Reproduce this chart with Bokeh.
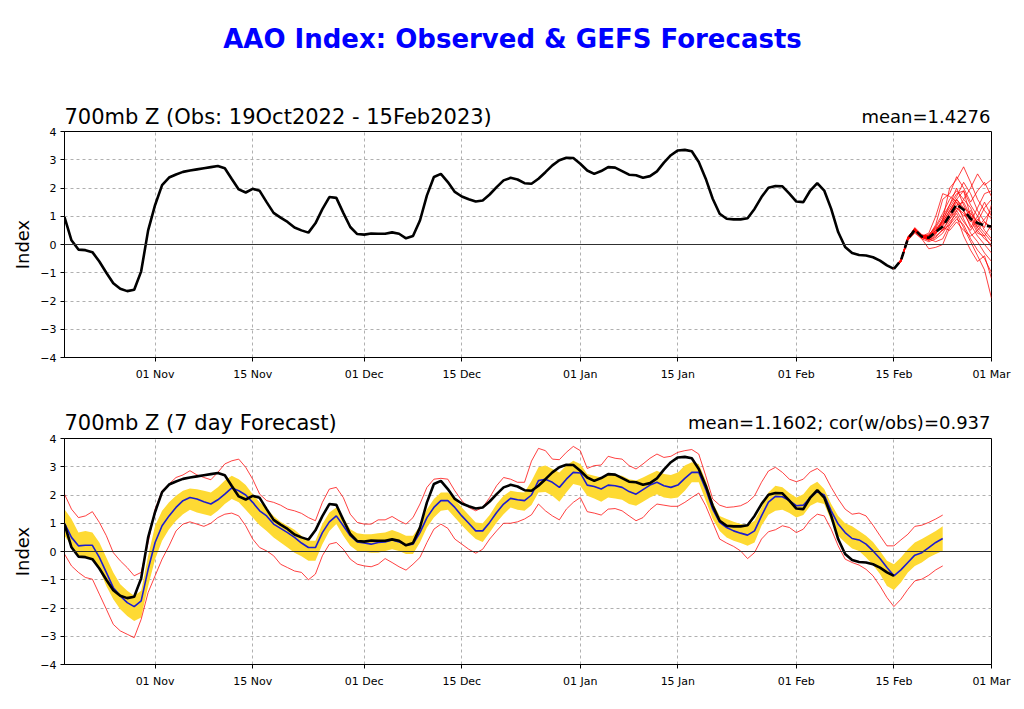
import pandas as pd
from bokeh.plotting import figure
from bokeh.models import Range1d, FixedTicker, DatetimeTickFormatter, Span, Label
from bokeh.layouts import column
from bokeh.embed import file_html
from bokeh.resources import INLINE

# ---------------- data ----------------
obs_start = "2022-10-19"
fcst_start = "2022-10-19"
ens_start = "2023-02-15"
x_start, x_end = "2022-10-19", "2023-03-01"
tick_dates = ["2022-11-01", "2022-11-15", "2022-12-01", "2022-12-15", "2023-01-01",
              "2023-01-15", "2023-02-01", "2023-02-15", "2023-03-01"]
y_ticks = [-4, -3, -2, -1, 0, 1, 2, 3, 4]

main_title = "AAO Index: Observed & GEFS Forecasts"
top_title = "700mb Z (Obs: 19Oct2022 - 15Feb2023)"
top_stat = "mean=1.4276"
bot_title = "700mb Z (7 day Forecast)"
bot_stat = "mean=1.1602; cor(w/obs)=0.937"

# observed AAO index (daily, 19 Oct 2022 - 15 Feb 2023)
obs = [0.97, 0.15, -0.18, -0.20, -0.27, -0.60, -1.00, -1.37, -1.57, -1.65,
       -1.60, -0.95, 0.50, 1.40, 2.10, 2.37, 2.48, 2.57, 2.62, 2.66,
       2.70, 2.74, 2.78, 2.70, 2.32, 1.95, 1.84, 1.97, 1.90, 1.50,
       1.12, 0.95, 0.80, 0.60, 0.50, 0.42, 0.75, 1.25, 1.68, 1.65,
       1.12, 0.62, 0.37, 0.35, 0.39, 0.38, 0.38, 0.43, 0.38, 0.22,
       0.30, 0.85, 1.74, 2.39, 2.50, 2.21, 1.86, 1.70, 1.60, 1.52,
       1.56, 1.77, 2.03, 2.27, 2.36, 2.30, 2.17, 2.15, 2.33, 2.56,
       2.80, 2.98, 3.07, 3.06, 2.86, 2.62, 2.50, 2.60, 2.74, 2.72,
       2.60, 2.47, 2.45, 2.36, 2.42, 2.59, 2.90, 3.16, 3.33, 3.35,
       3.30, 2.92, 2.33, 1.62, 1.09, 0.91, 0.89, 0.89, 0.93, 1.26,
       1.68, 2.01, 2.07, 2.06, 1.80, 1.52, 1.50, 1.91, 2.17, 1.91,
       1.26, 0.44, -0.09, -0.30, -0.37, -0.39, -0.45, -0.57, -0.74, -0.86]

# 7-day forecast ensemble mean (daily, 19 Oct 2022 - 22 Feb 2023)
fc_mean = [1.00, 0.50, 0.20, 0.22, 0.22, -0.21, -0.74, -1.28, -1.57, -1.81,
           -1.95, -1.75, -0.63, 0.32, 0.91, 1.26, 1.56, 1.80, 1.91, 1.86,
           1.76, 1.68, 1.83, 2.03, 2.25, 2.15, 2.00, 1.74, 1.44, 1.26,
           0.97, 0.82, 0.67, 0.50, 0.30, 0.14, 0.14, 0.67, 1.05, 1.26,
           0.91, 0.56, 0.34, 0.30, 0.26, 0.32, 0.34, 0.41, 0.34, 0.22,
           0.26, 0.67, 1.20, 1.56, 1.80, 1.80, 1.56, 1.26, 1.00, 0.73,
           0.73, 1.03, 1.38, 1.68, 1.88, 1.83, 1.80, 2.00, 2.51, 2.56,
           2.45, 2.27, 2.56, 2.80, 2.78, 2.35, 2.30, 2.21, 2.35, 2.33,
           2.27, 2.12, 2.03, 2.19, 2.35, 2.45, 2.33, 2.27, 2.35, 2.59,
           2.80, 2.80, 2.21, 1.50, 1.03, 0.85, 0.73, 0.65, 0.58, 0.73,
           1.26, 1.75, 1.95, 1.94, 1.80, 1.62, 1.64, 1.91, 2.12, 2.00,
           1.44, 0.97, 0.67, 0.46, 0.41, 0.26, 0.02, -0.25, -0.57, -0.86,
           -0.65, -0.39, -0.13, -0.04, 0.14, 0.32, 0.46]

# yellow band: upper / lower
fc_band_hi = [1.50, 1.15, 0.67, 0.73, 0.67, 0.32, -0.21, -0.74, -1.16, -1.39,
              -1.57, -1.39, -0.15, 0.91, 1.44, 1.74, 1.97, 2.15, 2.23, 2.20,
              2.15, 2.09, 2.27, 2.51, 2.68, 2.56, 2.35, 2.03, 1.74, 1.52,
              1.26, 1.05, 0.91, 0.77, 0.56, 0.38, 0.38, 0.97, 1.38, 1.56,
              1.20, 0.79, 0.65, 0.61, 0.61, 0.65, 0.67, 0.76, 0.67, 0.56,
              0.56, 0.91, 1.50, 1.86, 2.09, 2.09, 1.86, 1.56, 1.29, 1.03,
              1.00, 1.29, 1.68, 1.97, 2.15, 2.11, 2.09, 2.50, 2.98, 3.04,
              2.92, 2.80, 3.04, 3.21, 3.10, 2.74, 2.68, 2.62, 2.74, 2.71,
              2.68, 2.56, 2.51, 2.62, 2.74, 2.86, 2.74, 2.71, 2.80, 3.04,
              3.16, 3.10, 2.51, 1.74, 1.26, 1.15, 1.05, 0.97, 0.93, 1.09,
              1.56, 2.09, 2.33, 2.27, 2.07, 1.91, 2.03, 2.33, 2.47, 2.21,
              1.68, 1.26, 1.00, 0.89, 0.73, 0.56, 0.34, 0.02, -0.33, -0.45,
              -0.21, 0.08, 0.32, 0.44, 0.58, 0.73, 0.89]

fc_band_lo = [0.56, 0.20, -0.15, -0.21, -0.27, -0.63, -1.22, -1.69, -2.04, -2.28,
              -2.46, -2.34, -1.22, -0.27, 0.38, 0.79, 1.09, 1.32, 1.48, 1.38,
              1.32, 1.26, 1.44, 1.68, 1.86, 1.74, 1.48, 1.20, 0.93, 0.73,
              0.50, 0.32, 0.14, -0.04, -0.17, -0.33, -0.33, 0.26, 0.73, 0.97,
              0.56, 0.20, 0.02, -0.01, -0.04, -0.04, 0.02, 0.08, 0.02, -0.09,
              -0.09, 0.32, 0.85, 1.20, 1.44, 1.48, 1.20, 0.93, 0.67, 0.44,
              0.34, 0.67, 1.03, 1.32, 1.56, 1.48, 1.44, 1.65, 2.09, 2.11,
              1.97, 1.76, 2.09, 2.39, 2.33, 1.97, 1.88, 1.76, 1.91, 1.88,
              1.83, 1.68, 1.62, 1.76, 1.91, 2.03, 1.91, 1.88, 1.91, 2.15,
              2.45, 2.45, 1.80, 1.15, 0.73, 0.50, 0.38, 0.30, 0.20, 0.32,
              0.91, 1.30, 1.44, 1.48, 1.36, 1.20, 1.29, 1.62, 1.74, 1.68,
              1.09, 0.56, 0.32, 0.11, 0.02, -0.21, -0.48, -0.80, -1.22, -1.36,
              -1.10, -0.74, -0.51, -0.39, -0.21, -0.09, 0.02]

# red envelope: ensemble max / min
fc_max = [2.03, 1.50, 1.20, 1.26, 1.41, 1.03, 0.56, -0.04, -0.33, -0.57,
          -0.86, -0.74, 0.32, 1.50, 2.15, 2.39, 2.62, 2.71, 2.86, 2.71,
          2.62, 2.54, 2.80, 3.10, 3.21, 3.27, 2.98, 2.56, 2.03, 1.80,
          1.74, 1.64, 1.50, 1.44, 1.35, 1.20, 1.09, 1.74, 2.21, 2.27,
          1.91, 1.32, 1.03, 0.97, 0.97, 1.12, 1.12, 1.24, 1.09, 0.97,
          1.20, 1.68, 2.27, 2.56, 2.59, 2.56, 2.15, 1.80, 1.56, 1.44,
          1.56, 1.91, 2.33, 2.62, 2.56, 2.45, 2.45, 3.20, 3.65, 3.57,
          3.27, 3.25, 3.51, 3.72, 3.57, 2.94, 3.04, 3.06, 3.37, 3.30,
          3.27, 3.04, 2.92, 3.10, 3.30, 3.45, 3.33, 3.37, 3.51, 3.57,
          3.61, 3.45, 2.68, 1.86, 1.64, 1.56, 1.58, 1.62, 1.74, 1.97,
          2.45, 2.85, 2.98, 2.80, 2.56, 2.47, 2.56, 2.82, 2.94, 2.74,
          2.27, 1.86, 1.50, 1.32, 1.36, 1.26, 0.93, 0.56, 0.20, 0.20,
          0.41, 0.61, 0.89, 0.93, 1.03, 1.15, 1.29]

fc_min = [-0.09, -0.51, -0.74, -0.92, -0.98, -1.51, -2.04, -2.58, -2.81, -2.93,
          -3.05, -2.40, -1.45, -0.86, -0.27, 0.20, 0.73, 0.97, 1.05, 0.97,
          0.89, 1.00, 1.20, 1.32, 1.36, 1.26, 0.91, 0.44, 0.14, 0.02,
          -0.15, -0.45, -0.57, -0.69, -0.74, -1.00, -0.80, -0.15, 0.26, 0.32,
          0.08, -0.27, -0.45, -0.51, -0.54, -0.45, -0.25, -0.39, -0.54, -0.66,
          -0.45, -0.21, 0.32, 0.79, 0.97, 0.82, 0.44, 0.26, 0.08, -0.06,
          0.08, 0.44, 0.73, 1.00, 1.00, 1.05, 1.15, 1.30, 1.68, 1.44,
          1.26, 1.12, 1.50, 1.74, 1.91, 1.41, 1.36, 1.29, 1.50, 1.52,
          1.44, 1.26, 1.09, 1.20, 1.48, 1.68, 1.64, 1.60, 1.60, 1.74,
          1.91, 2.07, 1.62, 1.03, 0.44, 0.30, 0.18, 0.02, -0.25, -0.04,
          0.44, 0.70, 0.77, 0.91, 0.85, 0.67, 0.79, 1.12, 1.32, 1.26,
          0.79, 0.20, -0.27, -0.39, -0.48, -0.63, -0.86, -1.22, -1.63, -1.95,
          -1.69, -1.34, -1.04, -0.98, -0.84, -0.65, -0.51]

# GEFS members (daily, 15 Feb - 01 Mar 2023)
ens_members = [
    [-0.86, -0.60, 0.25, 0.55, 0.30, 0.20, 0.50, 0.90, 2.00, 2.30, 2.75, 2.20, 1.60, 1.20, 0.90],
    [-0.86, -0.55, 0.15, 0.50, 0.25, 0.30, 0.70, 1.60, 1.80, 2.40, 2.00, 1.50, 1.90, 2.20, 1.70],
    [-0.86, -0.58, 0.20, 0.45, 0.20, 0.10, 0.20, 0.40, 0.80, 1.10, 0.60, 0.10, -0.40, -0.90, -1.90],
    [-0.86, -0.62, 0.22, 0.60, 0.35, 0.25, 0.60, 1.00, 1.40, 1.80, 1.90, 1.40, 1.00, 0.50, 0.20],
    [-0.86, -0.52, 0.18, 0.48, 0.30, 0.40, 1.00, 1.80, 1.70, 1.50, 0.90, 0.40, 0.10, -0.30, -0.60],
    [-0.86, -0.57, 0.28, 0.55, 0.25, 0.15, 0.30, 0.50, 0.70, 1.20, 1.60, 2.00, 2.50, 2.10, 2.30],
    [-0.86, -0.60, 0.15, 0.40, 0.20, -0.15, -0.10, 0.00, 0.60, 0.90, 0.70, 0.20, -0.20, -0.50, -1.00],
    [-0.86, -0.55, 0.25, 0.52, 0.32, 0.30, 0.55, 0.80, 1.20, 1.60, 1.30, 1.10, 0.80, 1.30, 1.60],
    [-0.86, -0.59, 0.20, 0.50, 0.28, 0.20, 0.40, 0.70, 1.00, 1.40, 1.50, 1.00, 0.60, 0.90, 1.20],
    [-0.86, -0.54, 0.24, 0.58, 0.30, 0.35, 0.60, 0.50, 0.90, 1.30, 1.10, 0.70, 0.30, 0.00, -0.30],
    [-0.86, -0.61, 0.17, 0.47, 0.24, 0.18, 0.35, 0.90, 1.30, 1.70, 2.20, 1.80, 1.20, 0.80, 0.50],
    [-0.86, -0.56, 0.21, 0.53, 0.29, 0.22, 0.45, 0.60, 0.50, 0.80, 0.50, 0.30, 0.50, 0.20, 0.00],
    [-0.86, -0.58, 0.19, 0.51, 0.27, 0.26, 0.50, 0.75, 1.10, 1.50, 1.20, 0.60, 1.00, 1.50, 1.00],
    [-0.86, -0.57, 0.23, 0.49, 0.31, 0.28, 0.40, 0.85, 1.40, 2.00, 1.40, 0.90, 0.40, 0.30, 0.70],
    [-0.86, -0.60, 0.18, 0.46, 0.26, 0.15, 0.25, 0.55, 0.90, 1.20, 0.80, 0.50, 0.90, 0.60, 1.40],
    [-0.86, -0.55, 0.22, 0.56, 0.28, 0.32, 0.65, 1.10, 1.60, 1.90, 1.60, 1.30, 0.70, 0.40, 0.10],
    [-0.86, -0.59, 0.20, 0.50, 0.25, 0.20, 0.10, 0.20, 0.70, 1.00, 0.30, -0.20, -0.60, -0.40, -1.20],
    [-0.86, -0.56, 0.26, 0.54, 0.33, 0.30, 0.50, 0.80, 1.20, 1.60, 1.20, 0.80, 1.30, 1.80, 1.90],
    [-0.86, -0.58, 0.20, 0.52, 0.27, 0.24, 0.45, 0.65, 1.00, 1.30, 1.00, 1.20, 0.60, 0.30, -0.10],
    [-0.86, -0.57, 0.21, 0.50, 0.29, 0.22, 0.42, 0.70, 1.10, 1.60, 1.90, 1.00, 0.50, 0.80, 0.60],
]
ens_mean = [-0.86, -0.57, 0.20, 0.52, 0.28, 0.24, 0.44, 0.64, 1.03, 1.42, 1.23, 0.91, 0.76, 0.67, 0.64]

# ---------------- build ----------------
obs_dates = pd.date_range(obs_start, periods=len(obs), freq="D")
fc_dates = pd.date_range(fcst_start, periods=len(fc_mean), freq="D")
ens_dates = pd.date_range(ens_start, periods=len(ens_mean), freq="D")
ticks_ms = [pd.Timestamp(d).value / 1e6 for d in tick_dates]

FONT = "DejaVu Sans"
FIG_W = 1016
LEFT = 64
FRAME_W = 927
RIGHT = FIG_W - LEFT - FRAME_W
FRAME_H = 226


def make_header(height):
    h = figure(width=FIG_W, height=height, x_range=Range1d(0, FRAME_W), y_range=Range1d(0, height),
               x_axis_location=None, y_axis_location=None,
               output_backend="svg", toolbar_location=None,
               min_border_left=LEFT, min_border_right=RIGHT, min_border_top=0, min_border_bottom=0)
    h.title = None
    h.outline_line_color = None
    h.xgrid.visible = False
    h.ygrid.visible = False
    h.background_fill_color = "white"
    h.border_fill_color = "white"
    return h


def make_fig(height, top, bottom):
    p = figure(width=FIG_W, height=height, x_axis_type="datetime",
               x_range=Range1d(pd.Timestamp(x_start), pd.Timestamp(x_end)),
               y_range=Range1d(-4, 4),
               output_backend="svg", toolbar_location=None,
               min_border_left=LEFT, min_border_right=RIGHT,
               min_border_top=top, min_border_bottom=bottom)
    p.title = None
    p.background_fill_color = "white"
    p.border_fill_color = "white"
    p.outline_line_color = "black"
    p.outline_line_width = 1
    p.xaxis.ticker = FixedTicker(ticks=ticks_ms)
    p.xaxis.formatter = DatetimeTickFormatter(
        days="%d %b", months="%d %b", years="%d %b", hours="%d %b")
    p.yaxis.ticker = FixedTicker(ticks=y_ticks)
    for ax in (p.xaxis, p.yaxis):
        ax.major_label_text_font = FONT
        ax.major_label_text_font_size = "11px"
        ax.major_label_text_color = "black"
        ax.axis_line_color = "black"
        ax.major_tick_line_color = "black"
        ax.major_tick_out = 4
        ax.major_tick_in = 0
        ax.minor_tick_line_color = None
    p.xaxis.major_label_standoff = 6
    p.yaxis.major_label_standoff = 4
    p.yaxis.axis_label = "Index"
    p.yaxis.axis_label_text_font = FONT
    p.yaxis.axis_label_text_font_size = "18px"
    p.yaxis.axis_label_text_font_style = "normal"
    p.yaxis.axis_label_text_color = "black"
    p.yaxis.axis_label_standoff = 4
    p.xgrid.ticker = FixedTicker(ticks=ticks_ms)
    p.ygrid.ticker = FixedTicker(ticks=y_ticks)
    for g in (p.xgrid, p.ygrid):
        g.grid_line_color = "#b0b0b0"
        g.grid_line_dash = "3 3"
        g.grid_line_width = 1
    p.add_layout(Span(location=0, dimension="width", line_color="#303030", line_width=1.1))
    return p


def sub_titles(h, left_text, right_text, y):
    h.add_layout(Label(x=0, y=y, x_units="screen", y_units="screen", text=left_text,
                       text_align="left", text_baseline="middle",
                       text_font=FONT, text_font_size="21px", text_color="black"))
    h.add_layout(Label(x=FRAME_W - 1, y=y, x_units="screen", y_units="screen", text=right_text,
                       text_align="right", text_baseline="middle",
                       text_font=FONT, text_font_size="18px", text_color="black"))


# ---- header 1 (main title + top subtitle) ----
H1 = 127
h1 = make_header(H1)
h1.add_layout(Label(x=512 - LEFT, y=H1 - 38, x_units="screen", y_units="screen", text=main_title,
                    text_align="center", text_baseline="middle",
                    text_font=FONT, text_font_size="26px", text_font_style="bold",
                    text_color="#0000ff"))
sub_titles(h1, top_title, top_stat, H1 - 116)

# ---- top panel ----
p1 = make_fig(4 + FRAME_H + 43, 4, 43)
p1.line(obs_dates, obs, line_color="black", line_width=2.6)
p1.multi_line([list(ens_dates)] * len(ens_members), ens_members,
              line_color="red", line_width=1.0, line_alpha=0.75)
p1.line(ens_dates, ens_mean, line_color="black", line_width=2.6, line_dash="8 4")

# ---- header 2 ----
H2 = 34
h2 = make_header(H2)
sub_titles(h2, bot_title, bot_stat, H2 - 22)

# ---- bottom panel ----
p2 = make_fig(4 + FRAME_H + 40, 4, 40)
p2.varea(x=fc_dates, y1=fc_band_lo, y2=fc_band_hi, fill_color="#FEDA33", fill_alpha=1.0)
p2.line(fc_dates, fc_max, line_color="red", line_width=1.0, line_alpha=0.75)
p2.line(fc_dates, fc_min, line_color="red", line_width=1.0, line_alpha=0.75)
p2.line(fc_dates, fc_mean, line_color="#1c1cd0", line_width=1.6)
p2.line(obs_dates, obs, line_color="black", line_width=2.6)

layout = column(h1, p1, h2, p2, spacing=0)
open("out.html", "w").write(file_html(layout, INLINE))
